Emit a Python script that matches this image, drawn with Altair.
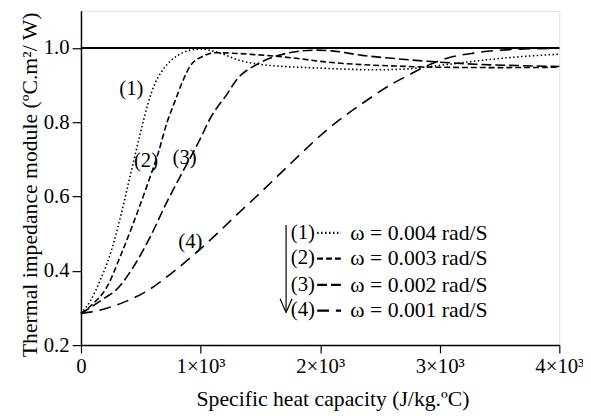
import altair as alt
import pandas as pd

# ---- data ----
c1_x = [0, 80, 165, 250, 330, 400, 440, 500, 560, 620, 670, 740, 810, 900, 1000, 1100, 1200, 1300, 1450, 1700, 1900, 2200, 2450, 2700, 3050, 3450, 3700, 4000]
c1_y = [0.285, 0.32, 0.378, 0.45, 0.545, 0.64, 0.695, 0.775, 0.85, 0.905, 0.934, 0.962, 0.98, 0.993, 0.997, 0.992, 0.982, 0.969, 0.958, 0.95, 0.947, 0.943, 0.941, 0.943, 0.955, 0.97, 0.977, 0.983]

c2_x = [0, 82, 223, 330, 440, 553, 643, 720, 783, 850, 915, 1030, 1120, 1250, 1450, 1650, 1800, 2050, 2350, 2650, 3000, 3500, 4000]
c2_y = [0.285, 0.306, 0.36, 0.44, 0.53, 0.63, 0.714, 0.80, 0.854, 0.91, 0.952, 0.979, 0.987, 0.986, 0.982, 0.977, 0.972, 0.962, 0.955, 0.951, 0.948, 0.947, 0.948]

c3_x = [0, 190, 305, 437, 577, 718, 815, 1000, 1080, 1220, 1303, 1468, 1633, 1823, 1970, 2100, 2350, 2600, 2900, 3300, 3700, 4000]
c3_y = [0.285, 0.325, 0.352, 0.41, 0.49, 0.585, 0.645, 0.757, 0.81, 0.875, 0.915, 0.955, 0.978, 0.991, 0.994, 0.992, 0.98, 0.972, 0.964, 0.956, 0.952, 0.95]

c4_x = [0, 140, 355, 553, 767, 950, 1138, 1300, 1493, 1773, 2070, 2350, 2623, 2730, 2900, 3060, 3282, 3470, 3700, 4000]
c4_y = [0.285, 0.293, 0.315, 0.346, 0.396, 0.445, 0.50, 0.55, 0.608, 0.695, 0.783, 0.85, 0.907, 0.925, 0.953, 0.972, 0.986, 0.993, 0.997, 0.999]

series_tags = ["(1)", "(2)", "(3)", "(4)"]
omega_text = ["ω = 0.004 rad/S", "ω = 0.003 rad/S", "ω = 0.002 rad/S", "ω = 0.001 rad/S"]
x_ticks = [0, 1000, 2000, 3000, 4000]
y_ticks = [0.2, 0.4, 0.6, 0.8, 1.0]

# ---- styles / layout ----
FONT = "Liberation Serif"
DASHES = [[1.5, 2.5], [6, 3], [10, 4], [12, 7]]
curve_label_pos = [(421, 0.889), (544, 0.695), (866, 0.703), (915, 0.476)]
legend_rows_y = [0.502, 0.433, 0.362, 0.293]
leg_tag_x = 1755
leg_sample_x = (1975, 2175)
leg_text_x = 2252

rows = []
for tag, xs, ys in zip(series_tags, [c1_x, c2_x, c3_x, c4_x], [c1_y, c2_y, c3_y, c4_y]):
    for xv, yv in zip(xs, ys):
        rows.append({"series": tag, "c": xv, "z": yv})
df = pd.DataFrame(rows)

xsc = alt.Scale(domain=[0, 4000], nice=False, zero=False)
ysc = alt.Scale(domain=[0.2, 1.1], nice=False, zero=False)
dsc = alt.Scale(domain=series_tags, range=DASHES)

x_axis = alt.Axis(
    values=x_ticks, labelExpr="datum.value == 0 ? '0' : (datum.value/1000) + '×10³'",
    grid=False, ticks=True, tickSize=8, tickColor="black", tickWidth=1.2,
    domainColor="black", domainWidth=1.5, labelFont=FONT, labelFontSize=21,
    labelColor="black", labelPadding=3, labelFlush=False,
    title="Specific heat capacity (J/kg.ºC)", titleFont=FONT, titleFontSize=22,
    titleFontWeight="normal", titleColor="black", titleX=255, titleY=54,
    titleAlign="center", titleBaseline="middle",
)
y_axis = alt.Axis(
    values=y_ticks, format=".1f", grid=False, tickSize=9, tickColor="black", tickWidth=1.2,
    domainColor="black", domainWidth=1.5, labelFont=FONT, labelFontSize=21,
    labelColor="black", labelPadding=3, labelFlush=False,
    title="Thermal impedance module (ºC.m²/ W)", titleFont=FONT, titleFontSize=22,
    titleFontWeight="normal", titleColor="black", titleX=-52, titleY=176,
    titleAlign="center", titleBaseline="middle", titleAngle=-90,
)

curves = alt.Chart(df).mark_line(color="black", strokeWidth=1.6, interpolate="monotone").encode(
    x=alt.X("c:Q", scale=xsc, axis=x_axis),
    y=alt.Y("z:Q", scale=ysc, axis=y_axis),
    strokeDash=alt.StrokeDash("series:N", scale=dsc, legend=None),
    detail="series:N",
)

one_line = alt.Chart(pd.DataFrame({"a": [0], "b": [4000], "v": [1.0]})).mark_rule(
    color="black", strokeWidth=2).encode(
    x=alt.X("a:Q", scale=xsc), x2="b:Q", y=alt.Y("v:Q", scale=ysc))

lab_df = pd.DataFrame({"t": series_tags,
                       "c": [p[0] for p in curve_label_pos],
                       "z": [p[1] for p in curve_label_pos]})
curve_labels = alt.Chart(lab_df).mark_text(font=FONT, fontSize=21, color="black",
                                           align="center", baseline="middle").encode(
    x=alt.X("c:Q", scale=xsc), y=alt.Y("z:Q", scale=ysc), text="t:N")

leg_df = pd.DataFrame({"series": series_tags, "w": omega_text, "z": legend_rows_y,
                       "tx": [leg_tag_x] * 4, "s0": [leg_sample_x[0]] * 4,
                       "s1": [leg_sample_x[1]] * 4, "wx": [leg_text_x] * 4})
leg_tags = alt.Chart(leg_df).mark_text(font=FONT, fontSize=21, color="black",
                                       align="left", baseline="middle").encode(
    x=alt.X("tx:Q", scale=xsc), y=alt.Y("z:Q", scale=ysc), text="series:N")
leg_texts = alt.Chart(leg_df).mark_text(font=FONT, fontSize=22, color="black",
                                        align="left", baseline="middle").encode(
    x=alt.X("wx:Q", scale=xsc), y=alt.Y("z:Q", scale=ysc), text="w:N")
leg_samples = alt.Chart(leg_df).mark_rule(color="black", strokeWidth=2.2).encode(
    x=alt.X("s0:Q", scale=xsc), x2="s1:Q", y=alt.Y("z:Q", scale=ysc),
    strokeDash=alt.StrokeDash("series:N", scale=dsc, legend=None))

arrow_df = pd.DataFrame({
    "x0": [1715, 1665, 1765], "y0": [0.523, 0.325, 0.325],
    "x1": [1715, 1715, 1715], "y1": [0.288, 0.288, 0.288]})
arrow = alt.Chart(arrow_df).mark_rule(color="black", strokeWidth=1.2).encode(
    x=alt.X("x0:Q", scale=xsc), y=alt.Y("y0:Q", scale=ysc), x2="x1:Q", y2="y1:Q")

chart = alt.layer(curves, one_line, curve_labels, leg_tags, leg_texts, leg_samples, arrow).properties(
    width=485, height=339, autosize="none",
    padding={"left": 74, "top": 0, "right": 24, "bottom": 64},
).configure_view(stroke=None).configure(background="white")

chart.save("out.html", embed_options={"renderer": "svg", "actions": False})
